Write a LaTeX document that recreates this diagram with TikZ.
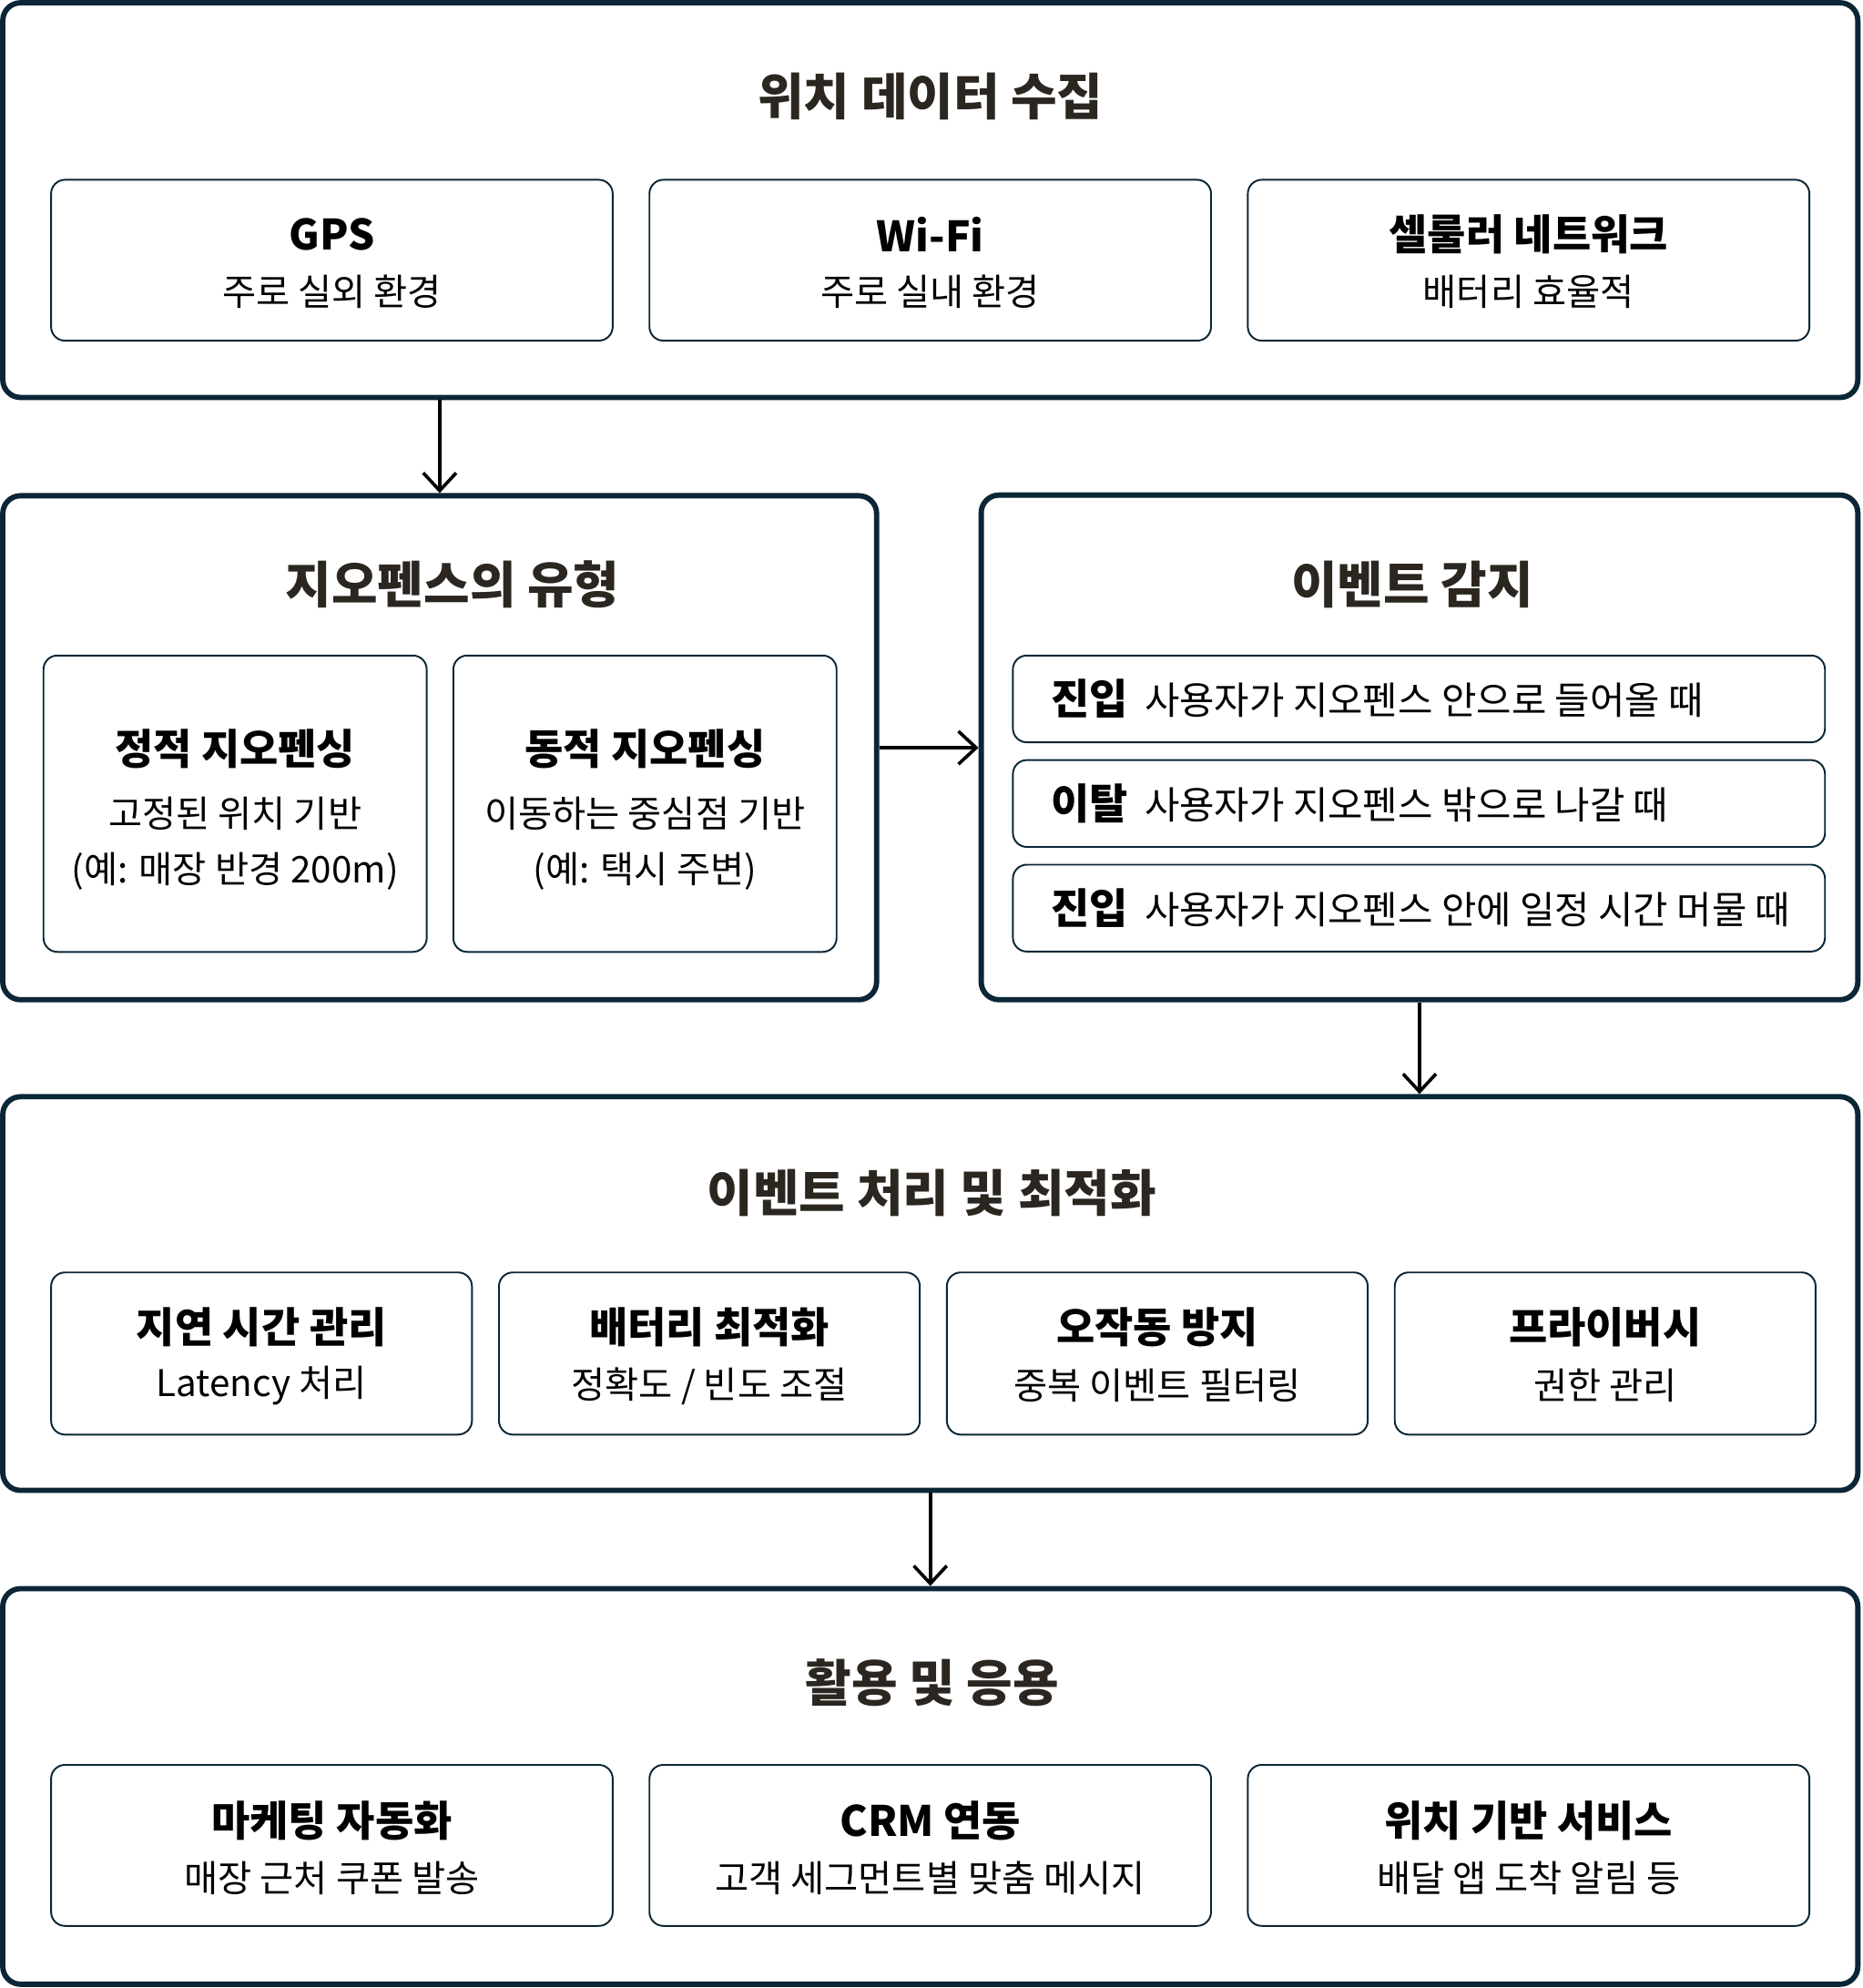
\documentclass[tikz,border=0pt]{standalone}
\usepackage{fontspec}
\setmainfont{Noto Sans CJK KR}
\usepackage{tikz}
\usetikzlibrary{positioning, arrows.meta}

\definecolor{framenavy}{HTML}{0B2636}
\definecolor{titleink}{HTML}{2B2620}

\tikzset{
  panel/.style={draw=framenavy, line width=4.2pt, rounded corners=14pt, inner sep=0pt},
  card/.style={draw=framenavy, line width=1.4pt, rounded corners=11pt, inner sep=0pt, outer sep=0pt},
  paneltitle/.style={text=titleink, font=\bfseries\fontsize{39.5}{46}\selectfont, inner sep=0pt},
  cardhead/.style={font=\bfseries\fontsize{33}{39}\selectfont, inner sep=0pt},
  carddesc/.style={font=\fontsize{29}{35}\selectfont, inner sep=0pt},
  rowtext/.style={anchor=west, font=\fontsize{30}{35}\selectfont, inner sep=0pt},
  flow/.style={-{Straight Barb[length=14pt,width=26pt]}, line width=2.6pt},
}

\begin{document}
\begin{tikzpicture}[x=1pt, y=-1pt]
  \useasboundingbox (0,0) rectangle (1469,1568);

  % location data collection
  \node[panel, minimum width=1463.3pt, minimum height=311.3pt] (collect) at (733.85,157.85) {};
  \node[paneltitle] (collecttitle) at (734,76) {위치 데이터 수집};
  \node[card, minimum width=443pt, minimum height=126.9pt] (gps) at (261.8,205.25) {};
  \node[card, minimum width=443pt, minimum height=126.9pt, right=29pt of gps] (wifi) {};
  \node[card, minimum width=443pt, minimum height=126.9pt, right=29pt of wifi] (cell) {};
  \node[cardhead] (gpshead) at ([yshift=20.5pt]gps.center) {GPS};
  \node[carddesc] (gpsdesc) at ([yshift=-25pt]gps.center) {주로 실외 환경};
  \node[cardhead] (wifihead) at ([yshift=20.5pt]wifi.center) {Wi-Fi};
  \node[carddesc] (wifidesc) at ([yshift=-25pt]wifi.center) {주로 실내 환경};
  \node[cardhead] (cellhead) at ([yshift=20.5pt]cell.center) {셀룰러 네트워크};
  \node[carddesc] (celldesc) at ([yshift=-25pt]cell.center) {배터리 효율적};

  % geofence types
  \node[panel, minimum width=689.3pt, minimum height=397.5pt] (types) at (346.85,589.75) {};
  \node[paneltitle] (typestitle) at (357,461) {지오펜스의 유형};
  \node[card, minimum width=302.3pt, minimum height=233.8pt] (static) at (185.45,633.9) {};
  \node[card, minimum width=302.3pt, minimum height=233.8pt, right=21pt of static] (dynamic) {};
  \node[cardhead] (statichead) at ([yshift=43pt]static.center) {정적 지오펜싱};
  \node[carddesc] (staticdesc) at ([yshift=-8pt]static.center) {고정된 위치 기반};
  \node[carddesc] (staticnote) at ([yshift=-53.6pt]static.center) {(예: 매장 반경 200m)};
  \node[cardhead] (dynamichead) at ([yshift=43pt]dynamic.center) {동적 지오펜싱};
  \node[carddesc] (dynamicdesc) at ([yshift=-8pt]dynamic.center) {이동하는 중심점 기반};
  \node[carddesc] (dynamicnote) at ([yshift=-53.6pt]dynamic.center) {(예: 택시 주변)};

  % event detection
  \node[panel, minimum width=691.5pt, minimum height=398pt] (detect) at (1119.75,589.5) {};
  \node[paneltitle] (detecttitle) at (1114,461) {이벤트 감지};
  \node[card, minimum width=640.6pt, minimum height=68.5pt] (enterrow) at (1119.3,551.25) {};
  \node[card, minimum width=640.6pt, minimum height=68.5pt, below=14pt of enterrow] (exitrow) {};
  \node[card, minimum width=640.6pt, minimum height=68.5pt, below=14pt of exitrow] (dwellrow) {};
  \node[rowtext, right=30pt of enterrow.west] (entertext) {{\bfseries\fontsize{33}{35}\selectfont 진입}\hspace{13pt}사용자가 지오펜스 안으로 들어올 때};
  \node[rowtext, right=30pt of exitrow.west] (exittext) {{\bfseries\fontsize{33}{35}\selectfont 이탈}\hspace{13pt}사용자가 지오펜스 밖으로 나갈 때};
  \node[rowtext, right=30pt of dwellrow.west] (dwelltext) {{\bfseries\fontsize{33}{35}\selectfont 진입}\hspace{13pt}사용자가 지오펜스 안에 일정 시간 머물 때};

  % processing and optimisation
  \node[panel, minimum width=1463.3pt, minimum height=310.5pt] (process) at (733.85,1020.25) {};
  \node[paneltitle] (processtitle) at (735,940.6) {이벤트 처리 및 최적화};
  \node[card, minimum width=332pt, minimum height=127.9pt] (latency) at (206.3,1067.55) {};
  \node[card, minimum width=332pt, minimum height=127.9pt, right=21.3pt of latency] (battery) {};
  \node[card, minimum width=332pt, minimum height=127.9pt, right=21.3pt of battery] (falsealarm) {};
  \node[card, minimum width=332pt, minimum height=127.9pt, right=21.3pt of falsealarm] (privacy) {};
  \node[cardhead] (latencyhead) at ([yshift=20.5pt]latency.center) {지연 시간 관리};
  \node[carddesc] (latencydesc) at ([yshift=-25.5pt]latency.center) {Latency 처리};
  \node[cardhead] (batteryhead) at ([yshift=20.5pt]battery.center) {배터리 최적화};
  \node[carddesc] (batterydesc) at ([yshift=-25.5pt]battery.center) {정확도 / 빈도 조절};
  \node[cardhead] (falsealarmhead) at ([yshift=20.5pt]falsealarm.center) {오작동 방지};
  \node[carddesc] (falsealarmdesc) at ([yshift=-25.5pt]falsealarm.center) {중복 이벤트 필터링};
  \node[cardhead] (privacyhead) at ([yshift=20.5pt]privacy.center) {프라이버시};
  \node[carddesc] (privacydesc) at ([yshift=-25.5pt]privacy.center) {권한 관리};

  % applications
  \node[panel, minimum width=1463.3pt, minimum height=312pt] (apply) at (733.85,1409) {};
  \node[paneltitle] (applytitle) at (735.5,1327) {활용 및 응용};
  \node[card, minimum width=443pt, minimum height=127pt] (marketing) at (261.8,1455.5) {};
  \node[card, minimum width=443pt, minimum height=127pt, right=29pt of marketing] (crm) {};
  \node[card, minimum width=443pt, minimum height=127pt, right=29pt of crm] (lbs) {};
  \node[cardhead] (marketinghead) at ([yshift=19.5pt]marketing.center) {마케팅 자동화};
  \node[carddesc] (marketingdesc) at ([yshift=-26pt]marketing.center) {매장 근처 쿠폰 발송};
  \node[cardhead] (crmhead) at ([yshift=19.5pt]crm.center) {CRM 연동};
  \node[carddesc] (crmdesc) at ([yshift=-26pt]crm.center) {고객 세그먼트별 맞춤 메시지};
  \node[cardhead] (lbshead) at ([yshift=19.5pt]lbs.center) {위치 기반 서비스};
  \node[carddesc] (lbsdesc) at ([yshift=-26pt]lbs.center) {배달 앱 도착 알림 등};

  % flow between panels
  \draw[flow] (collect.south -| types.north) -- (types.north);
  \draw[flow] (types.east) -- (types.east -| detect.west);
  \draw[flow] (detect.south) -- (detect.south |- process.north);
  \draw[flow] (process.south -| apply.north) -- (apply.north);
\end{tikzpicture}
\end{document}
